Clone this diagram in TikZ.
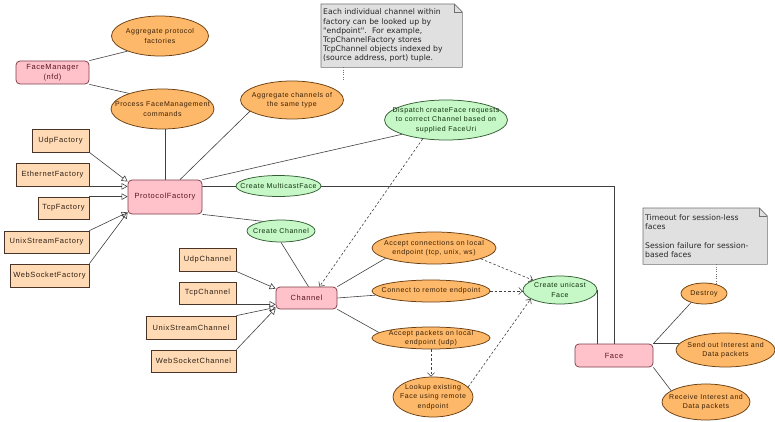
\documentclass[tikz,border=0pt]{standalone}
\usepackage{fontspec}
\setmainfont{Liberation Sans}
\newfontfamily\nodefont[LetterSpace=8]{Liberation Sans}
\newfontfamily\notefont{DejaVu Sans}
\usetikzlibrary{shapes.geometric,arrows.meta,backgrounds}
\definecolor{pinkfill}{HTML}{FFC2CA}
\definecolor{pinkline}{HTML}{7E3E48}
\definecolor{pinktext}{HTML}{5A1420}
\definecolor{orfill}{HTML}{FDB86A}
\definecolor{orline}{HTML}{6A3E10}
\definecolor{ortext}{HTML}{3A2004}
\definecolor{grfill}{HTML}{C6F7C6}
\definecolor{grline}{HTML}{345E34}
\definecolor{grtext}{HTML}{0E300E}
\definecolor{pcfill}{HTML}{FFDAB4}
\definecolor{pcline}{HTML}{4A3428}
\definecolor{pctext}{HTML}{2E2016}
\definecolor{notefill}{HTML}{E0E0E0}
\definecolor{noteline}{HTML}{707070}
\definecolor{edgecol}{HTML}{404040}
\tikzset{
  nbase/.style={font=\nodefont\fontsize{7}{9.5}\selectfont, align=center, inner sep=0pt, line width=0.75pt},
  pinkbox/.style={nbase, rectangle, rounded corners=4pt, draw=pinkline, fill=pinkfill, text=pinktext, font=\nodefont\fontsize{7.5}{9.5}\selectfont},
  pcbox/.style={nbase, rectangle, draw=pcline, fill=pcfill, text=pctext, font=\nodefont\fontsize{7.5}{9.5}\selectfont},
  orell/.style={nbase, ellipse, inner sep=-30pt, draw=orline, fill=orfill, text=ortext},
  grell/.style={nbase, ellipse, inner sep=-30pt, draw=grline, fill=grfill, text=grtext},
  notetext/.style={font=\notefont\fontsize{7.7}{9.2}\selectfont, text=black!85, align=left, inner sep=2pt, anchor=north west},
  notebg/.style={draw=noteline, fill=notefill, line width=0.6pt},
  link/.style={draw=edgecol, line width=0.6pt},
  inh/.style={link, -{Triangle[open,length=6pt,width=6.5pt]}},
  dep/.style={draw=edgecol, line width=0.6pt, dash pattern=on 2.5pt off 2pt, -{Straight Barb[length=3.5pt,width=7pt]}},
  anchorline/.style={draw=noteline, line width=0.9pt, dash pattern=on 1pt off 1.3pt},
}
\begin{document}
\begin{tikzpicture}[x=1pt,y=-1pt]
\useasboundingbox (0,0) rectangle (775,422);

% notes
\node[notetext, text width=137pt, minimum height=63pt] (n1) at (321,4)
  {Each individual channel within\\factory can be looked up by\\"endpoint".\ \ For example,\\TcpChannelFactory stores\\TcpChannel objects indexed by\\(source address, port) tuple.};
\node[notetext, text width=120pt, minimum height=56pt] (n2) at (643,208)
  {Timeout for session-less\\faces\\[9.2pt]Session failure for session-\\based faces};

% pink boxes
\node[pinkbox, minimum width=73, minimum height=23] (fm) at (52.5,72.5) {FaceManager\\(nfd)};
\node[pinkbox, minimum width=74, minimum height=34] (pf) at (165,197) {ProtocolFactory};
\node[pinkbox, minimum width=61, minimum height=22] (chan) at (306.5,298) {Channel};
\node[pinkbox, minimum width=78, minimum height=23] (face) at (614,355.5) {Face};

% factories
\node[pcbox, minimum width=57, minimum height=23] (udpf) at (60.5,140.5) {UdpFactory};
\node[pcbox, minimum width=73, minimum height=23] (ethf) at (52.5,174.5) {EthernetFactory};
\node[pcbox, minimum width=51, minimum height=22] (tcpf) at (63.5,208) {TcpFactory};
\node[pcbox, minimum width=85, minimum height=22] (unixf) at (46.5,242) {UnixStreamFactory};
\node[pcbox, minimum width=79, minimum height=23] (wsf) at (49.5,275.5) {WebSocketFactory};

% channels
\node[pcbox, minimum width=57, minimum height=23] (udpc) at (207.5,259.5) {UdpChannel};
\node[pcbox, minimum width=57, minimum height=22] (tcpc) at (207.5,293) {TcpChannel};
\node[pcbox, minimum width=90, minimum height=23] (unixc) at (191,327.5) {UnixStreamChannel};
\node[pcbox, minimum width=85, minimum height=22] (wsc) at (193.5,361) {WebSocketChannel};

% ellipses
\node[orell, minimum width=97, minimum height=40] (apf) at (160,36) {Aggregate protocol\\factories};
\node[orell, minimum width=103, minimum height=40] (pfm) at (162.5,109) {Process FaceManagement\\commands};
\node[orell, minimum width=103, minimum height=38] (acst) at (292,100) {Aggregate channels of\\the same type};
\node[grell, minimum width=123, minimum height=40] (disp) at (446,120) {Dispatch createFace requests\\to correct Channel based on\\supplied FaceUri};
\node[grell, minimum width=85, minimum height=21] (mcast) at (278.5,186) {Create MulticastFace};
\node[grell, minimum width=68, minimum height=22] (cch) at (281,231) {Create Channel};
\node[orell, minimum width=124, minimum height=32] (ac) at (434,248) {Accept connections on local\\endpoint (tcp, unix, ws)};
\node[orell, minimum width=118, minimum height=22] (cr) at (431,291) {Connect to remote endpoint};
\node[orell, minimum width=118, minimum height=22] (ap) at (431,338) {Accept packets on local\\endpoint (udp)};
\node[orell, minimum width=80, minimum height=40] (lk) at (433,397) {Lookup existing\\Face using remote\\endpoint};
\node[grell, minimum width=74, minimum height=28] (uni) at (560,290) {Create unicast\\Face};
\node[orell, minimum width=46, minimum height=21] (destroy) at (704,293.5) {Destroy};
\node[orell, minimum width=99, minimum height=34] (send) at (725.5,350) {Send out Interest and\\Data packets};
\node[orell, minimum width=88, minimum height=36] (recv) at (706,402) {Receive Interest and\\Data packets};

\coordinate (n1end) at (343,79);
\coordinate (sendin) at ([xshift=3pt]send.west);

\begin{scope}[on background layer]
  \foreach \n in {n1,n2}{
    \filldraw[notebg] (\n.north west) -- ([xshift=-8pt]\n.north east) -- ([yshift=-8pt]\n.north east)
      -- (\n.south east) -- (\n.south west) -- cycle;
    \draw[notebg, fill=none] ([xshift=-8pt]\n.north east) -- ([xshift=-8pt,yshift=-8pt]\n.north east)
      -- ([yshift=-8pt]\n.north east);
  }
  \draw[anchorline] (n1end |- n1.south) -- (n1end);
  \draw[anchorline] (destroy.37 |- n2.south) -- (destroy.37);

  % FaceManager
  \draw[link] (fm.north east) -- (apf.205);
  \draw[link] (fm.south east) -- (pfm.155);
  % ProtocolFactory
  \draw[link] (pf.north) -- (pf.north |- pfm.south);
  \draw[link] ([xshift=15pt]pf.north) -- (acst.195);
  \draw[link] (pf.north east) -- (disp.198);
  \draw[link] (mcast.west) -- (mcast.west -| pf.east);
  \draw[link] (mcast.east) -| (face.north);
  \draw[link] (pf.south east) -- (cch.152);
  \draw[link] (cch.south) -- ([xshift=2pt]chan.north);
  \draw[dep] (disp.219) -- ([xshift=13pt]chan.north);
  % factory inheritance
  \draw[inh] (udpf.south east) -- ([yshift=-2pt]pf.north west);
  \draw[inh] (ethf.south east) -- (ethf.south east -| pf.west);
  \draw[inh] (tcpf.north east) -- (tcpf.north east -| pf.west);
  \draw[inh] (unixf.north east) -- ([yshift=2pt]pf.south west);
  \draw[inh] (wsf.north east) -- ([yshift=2pt]pf.south west);
  % channel inheritance
  \draw[inh] (udpc.south east) -- ([yshift=-2pt]chan.north west);
  \draw[inh] (tcpc.south east) -- (tcpc.south east -| chan.west);
  \draw[inh] (unixc.north east) -- ([yshift=2pt]chan.south west);
  \draw[inh] (wsc.north east) -- ([yshift=1pt]chan.south west);
  % Channel
  \draw[link] (chan.north east) -- (ac.192);
  \draw[link] (chan.east) -- (cr);
  \draw[link] (chan.south east) -- (ap.174);
  \draw[dep] (ap.south) -- (ap.south |- lk.north);
  \draw[dep] (lk.16) -- (uni.197);
  \draw[dep] (ac.347) -- (uni.160);
  \draw[dep] (cr.east) -- (uni.west |- cr.east);
  % Face
  \draw[link] (uni.east) -- (uni.east |- face.north);
  \draw[link] (face.north east) -- (destroy.215);
  \draw[link] (face.north east) -- (sendin |- face.north east);
  \draw[link] (face.south east) -- (recv.162);
\end{scope}
\end{tikzpicture}
\end{document}
